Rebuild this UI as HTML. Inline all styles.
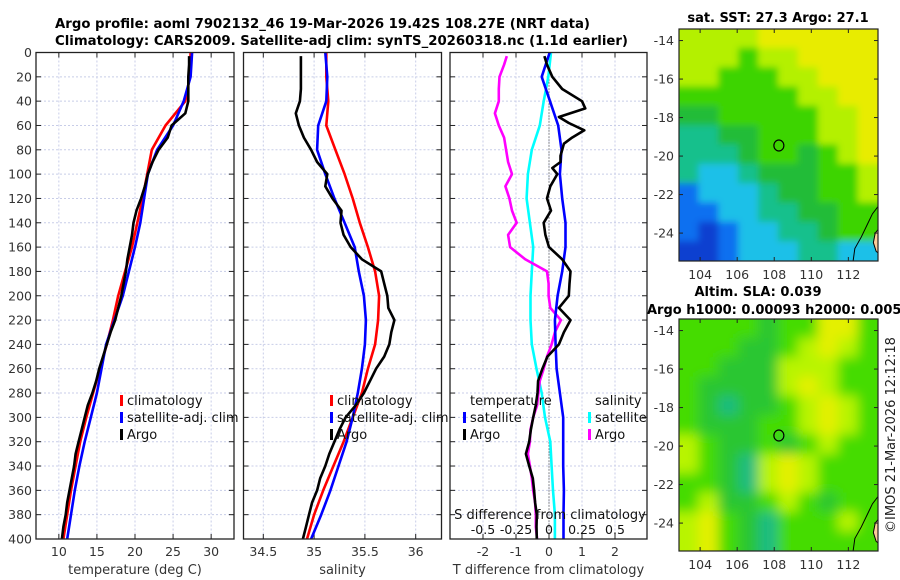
<!DOCTYPE html>
<html><head><meta charset="utf-8"><style>
html,body{margin:0;padding:0;background:#fff;}
svg{display:block;font-family:"DejaVu Sans","Liberation Sans",sans-serif;}
</style></head><body>
<svg id="fig" width="900" height="580" viewBox="0 0 900 580" xmlns="http://www.w3.org/2000/svg">
<text x="55" y="28" font-size="13" font-weight="bold" textLength="535" lengthAdjust="spacingAndGlyphs">Argo profile: aoml 7902132_46 19-Mar-2026 19.42S 108.27E (NRT data)</text>
<text x="55" y="45" font-size="13" font-weight="bold" textLength="573" lengthAdjust="spacingAndGlyphs">Climatology: CARS2009. Satellite-adj clim: synTS_20260318.nc (1.1d earlier)</text>
<text x="778" y="22" font-size="13" font-weight="bold" text-anchor="middle">sat. SST: 27.3 Argo: 27.1</text>
<text x="758" y="296" font-size="13" font-weight="bold" text-anchor="middle">Altim. SLA: 0.039</text>
<text x="647" y="314" font-size="13" font-weight="bold">Argo h1000: 0.00093 h2000: 0.005</text>
<text transform="translate(895,435) rotate(-90)" font-size="13" text-anchor="middle" fill="#222">©IMOS 21-Mar-2026 12:12:18</text>
<g id="plots"></g>
</svg>
<script>
// ---------- data ----------
const depthStd = [0,20,40,60,80,100,120,140,160,180,200,220,240,260,280,300,320,340,360,380,400];
const tempClim = [27.3,27.2,26.6,24.0,22.2,21.6,21.0,20.3,19.6,18.7,17.8,17.1,16.3,15.4,14.5,13.6,12.8,12.2,11.6,11.1,10.6];
const tempSat  = [27.5,27.3,26.4,25.0,22.9,21.7,21.2,20.7,20.0,19.2,18.4,17.3,16.2,15.6,15.0,14.2,13.4,12.7,12.1,11.6,11.1];
const depthArgo = [3,10,20,30,40,50,60,70,80,90,100,110,120,130,140,150,160,170,180,190,200,210,220,230,240,250,260,270,280,290,300,310,320,330,340,350,360,370,380,390,400];
const tempArgo = [27.1,27.1,27.0,27.0,27.0,26.6,24.8,24.3,23.1,22.3,21.7,21.3,20.8,20.2,19.8,19.6,19.3,19.0,18.8,18.5,18.2,17.8,17.4,16.8,16.3,15.8,15.3,14.9,14.4,13.8,13.4,13.0,12.6,12.2,12.0,11.7,11.4,11.1,10.9,10.6,10.4];
const salClim = [35.12,35.12,35.14,35.12,35.21,35.30,35.38,35.45,35.53,35.60,35.64,35.63,35.60,35.53,35.47,35.38,35.29,35.19,35.09,35.00,34.93];
const salSat  = [35.11,35.13,35.12,35.04,35.03,35.11,35.20,35.30,35.40,35.44,35.49,35.51,35.50,35.47,35.43,35.38,35.32,35.24,35.16,35.07,34.97];
const salArgo = [34.87,34.87,34.87,34.87,34.86,34.82,34.85,34.90,34.97,35.03,35.13,35.11,35.18,35.27,35.26,35.29,35.36,35.47,35.66,35.69,35.72,35.73,35.79,35.76,35.74,35.69,35.61,35.55,35.49,35.41,35.31,35.25,35.20,35.15,35.11,35.06,35.03,34.98,34.95,34.92,34.89];
const tDiffSat = [0.02,-0.22,0.03,0.28,0.38,0.33,0.40,0.50,0.50,0.40,0.26,0.18,0.20,0.23,0.33,0.43,0.43,0.43,0.45,0.44,0.44];
const sDiffSat = [0.015,-0.005,-0.04,-0.07,-0.13,-0.16,-0.17,-0.145,-0.12,-0.13,-0.14,-0.14,-0.13,-0.095,-0.055,-0.03,0.01,0.02,0.03,0.045,0.045];
const sDiffArgo = [-0.32,-0.34,-0.375,-0.38,-0.38,-0.41,-0.38,-0.34,-0.325,-0.31,-0.28,-0.33,-0.30,-0.28,-0.245,-0.31,-0.295,-0.18,-0.015,-0.003,-0.003,0.01,0.09,0.045,0.02,-0.015,-0.04,-0.07,-0.08,-0.09,-0.12,-0.14,-0.145,-0.16,-0.145,-0.13,-0.12,-0.105,-0.1,-0.1,-0.09];
const depthTDiffArgo = [3,10,20,30,40,46,53,58,64,70,75,85,90,95,100,110,120,130,140,150,160,170,180,190,200,210,220,230,240,250,260,270,280,290,300,310,320,330,340,350,360,370,380,390,400];
const tDiffArgo = [-0.14,-0.06,0.1,0.4,1.0,1.1,0.3,0.6,1.07,0.7,0.45,0.35,0.35,0.1,0.25,0.04,-0.06,0.06,-0.16,-0.11,0.0,0.4,0.65,0.62,0.6,0.3,0.65,0.45,0.3,-0.05,-0.2,-0.33,-0.35,-0.4,-0.48,-0.55,-0.6,-0.7,-0.6,-0.49,-0.45,-0.42,-0.37,-0.38,-0.37];
const depthTicks = [0,20,40,60,80,100,120,140,160,180,200,220,240,260,280,300,320,340,360,380,400];
const tempTicks = [10,15,20,25,30];
const salTicks = [34.5,35,35.5,36];
const salTickLabels = ["34.5","35","35.5","36"];
const diffTicks = [-2,-1,0,1,2];
const sDiffTicks = [-0.5,-0.25,0,0.25,0.5];
const sDiffTickLabels = ["-0.5","-0.25","0","0.25","0.5"];
const lonTicks = [104,106,108,110,112];
const latTicks = [-14,-16,-18,-20,-22,-24];
const sstGrid = ["LLLLYYYYYY","LLLGLLYYYY","LLGGGLLYYY","GGGGGGLLYY","DDGGGGGLLY","TTDDGGGLLY","TTTDGGDGLY","TCCTDDDGGL","BCCCTDDGGL","BBCCTTDDGG","BNBCCTTDGG","NNBCCCTTCC"];
const slaGrid = ["GGGGDGGYYG","GGGDDGLYLG","GGDDDLLLGG","GDDDDLYLGG","GDTDDGLYLG","GDDDGGLYLG","LGDDGDGLGG","LGDTLYLGGG","GGDTLYLGGG","GLDDGLGDGG","LYGDTGGGLG","LYGDTGGGGG"];
const floatLon = 108.25, floatLat = -19.45;

// ---------- helpers ----------
const NS="http://www.w3.org/2000/svg";
const root=document.getElementById('plots');
function mk(tag,attrs,parent){const e=document.createElementNS(NS,tag);for(const k in attrs)e.setAttribute(k,attrs[k]);(parent||root).appendChild(e);return e;}
const Y0=52.5,Y1=539;
const yScale=d=>Y0+(d/400)*(Y1-Y0);
function linScale(d0,d1,r0,r1){return v=>r0+(v-d0)/(d1-d0)*(r1-r0);}

function panel(name,x0,x1,xs,ticks,labels,xlabel,showY){
  const g=mk('g',{});
  
  
  ticks.forEach(t=>{const l=mk('line',{x1:xs(t),x2:xs(t),y1:Y0,y2:Y1,stroke:'#c8cde8','stroke-width':1,'stroke-dasharray':'2,2'},g);
    });
  depthTicks.forEach(d=>{if(d===0||d===400)return;const l=mk('line',{x1:x0,x2:x1,y1:yScale(d),y2:yScale(d),stroke:'#c8cde8','stroke-width':1,'stroke-dasharray':'2,2'},g);
    });
  ticks.forEach((t,i)=>{
    mk('line',{x1:xs(t),x2:xs(t),y1:Y0,y2:Y0+5,stroke:'#222'},g);
    mk('line',{x1:xs(t),x2:xs(t),y1:Y1,y2:Y1-5,stroke:'#222'},g);
    const tx=mk('text',{x:xs(t),y:Y1+17,'font-size':12.5,'text-anchor':'middle',fill:'#333'},g);tx.textContent=labels[i];
    
  });
  depthTicks.forEach(d=>{
    mk('line',{x1:x0,x2:x0+5,y1:yScale(d),y2:yScale(d),stroke:'#222'},g);
    mk('line',{x1:x1,x2:x1-5,y1:yScale(d),y2:yScale(d),stroke:'#222'},g);
    if(showY){const tx=mk('text',{x:x0-4,y:yScale(d)+4.5,'font-size':12.5,'text-anchor':'end',fill:'#333'},g);tx.textContent=d;
      }
  });
  const xl=mk('text',{x:(x0+x1)/2,y:Y1+35,'font-size':13,'text-anchor':'middle',fill:'#333'},g);xl.textContent=xlabel;
  
  return g;
}
function frame(g,x0,x1){const r=mk('rect',{x:x0,y:Y0,width:x1-x0,height:Y1-Y0,fill:'none',stroke:'#222','stroke-width':1.3},g);
  }
function line(g,name,xs,vals,depths,color){
  const pts=vals.map((v,i)=>xs(v).toFixed(1)+','+yScale(depths[i]).toFixed(1)).join(' ');
  const p=mk('polyline',{points:pts,fill:'none',stroke:color,'stroke-width':2.6,'stroke-linejoin':'round'},g);
  
}
function legendEntry(g,x,y,color,label,name){
  const e=mk('g',{},g);
  
  mk('rect',{x:x,y:y-10,width:3,height:11,fill:color},e);
  const t=mk('text',{x:x+7,y:y,'font-size':13,fill:'#111'},e);t.textContent=label;
}

// ---------- panel 1 temperature ----------
{const x0=36,x1=234;const xs=linScale(7,33,x0,x1);
 const g=panel('temperature-panel',x0,x1,xs,tempTicks,tempTicks.map(String),'temperature (deg C)',true);
 line(g,'temp-climatology-line',xs,tempClim,depthStd,'#f00');
 line(g,'temp-satellite-line',xs,tempSat,depthStd,'#00f');
 line(g,'temp-argo-line',xs,tempArgo,depthArgo,'#000');
 legendEntry(g,120,405,'#f00','climatology','legend-climatology');
 legendEntry(g,120,422,'#00f','satellite-adj. clim','legend-satellite');
 legendEntry(g,120,439,'#000','Argo','legend-argo');
 frame(g,x0,x1);}
// ---------- panel 2 salinity ----------
{const x0=243.5,x1=441.5;const xs=linScale(34.5,35,263.3,314.1);
 const g=panel('salinity-panel',x0,x1,xs,salTicks,salTickLabels,'salinity',false);
 line(g,'sal-climatology-line',xs,salClim,depthStd,'#f00');
 line(g,'sal-satellite-line',xs,salSat,depthStd,'#00f');
 line(g,'sal-argo-line',xs,salArgo,depthArgo,'#000');
 legendEntry(g,330,405,'#f00','climatology','legend-climatology');
 legendEntry(g,330,422,'#00f','satellite-adj. clim','legend-satellite');
 legendEntry(g,330,439,'#000','Argo','legend-argo');
 frame(g,x0,x1);}
// ---------- panel 3 differences ----------
{const x0=450,x1=647;const xs=linScale(-3,3,450,648);const ss=v=>xs(v*4);
 const g=panel('difference-panel',x0,x1,xs,diffTicks,diffTicks.map(String),'T difference from climatology',false);
 const z=mk('line',{x1:xs(0),x2:xs(0),y1:Y0,y2:Y1,stroke:'#333','stroke-dasharray':'1,2'},g);
 
 line(g,'sdiff-satellite-line',ss,sDiffSat,depthStd,'#0ff');
 line(g,'sdiff-argo-line',ss,sDiffArgo,depthArgo,'#f0f');
 line(g,'tdiff-satellite-line',xs,tDiffSat,depthStd,'#00f');
 line(g,'tdiff-argo-line',xs,tDiffArgo,depthTDiffArgo,'#000');
 const st=mk('text',{x:550,y:519,'font-size':13,'text-anchor':'middle',fill:'#111'},g);st.textContent='S difference from climatology';
 
 sDiffTicks.forEach((t,i)=>{const tx=mk('text',{x:ss(t),y:534,'font-size':12.5,'text-anchor':'middle',fill:'#111'},g);tx.textContent=sDiffTickLabels[i];
   });
 const h1=mk('text',{x:470,y:405,'font-size':13,fill:'#111'},g);h1.textContent='temperature';
 
 const h2=mk('text',{x:595,y:405,'font-size':13,fill:'#111'},g);h2.textContent='salinity';
 
 legendEntry(g,463,422,'#00f','satellite','legend-t-satellite');
 legendEntry(g,463,439,'#000','Argo','legend-t-argo');
 legendEntry(g,588,422,'#0ff','satellite','legend-s-satellite');
 legendEntry(g,588,439,'#f0f','Argo','legend-s-argo');
 frame(g,x0,x1);}

// ---------- maps ----------
const sstColors={Y:'#e8ec00',L:'#b4f000',G:'#3ed400',D:'#22bc38',T:'#12c08c',C:'#1ec0e8',B:'#1070f0',N:'#0c40d0'};
const slaColors={Y:'#e4f000',L:'#b8f400',G:'#44dc00',D:'#2cc630',T:'#1cbc80'};
function drawMap(name,top,grid,colors,blur){
  const x0=679,x1=878,y0=top,y1=top+232;
  const lonS=linScale(102.86,113.6,x0,x1), latS=linScale(-13.4,-25.45,y0,y1);
  const g=mk('g',{});
  
  const cid='clip'+top;
  const cp=mk('clipPath',{id:cid},g);mk('rect',{x:x0,y:y0,width:x1-x0,height:y1-y0},cp);
  const ig=mk('g',{'clip-path':'url(#'+cid+')'},g);
  const inner=mk('g',{filter:'url(#'+blur+')'},ig);
  const rows=grid.length,cols=grid[0].length,cw=(x1-x0)/cols,ch=(y1-y0)/rows;
  mk('rect',{x:x0-20,y:y0-20,width:x1-x0+40,height:y1-y0+40,fill:colors.G},inner);
  grid.forEach((row,r)=>{[...row].forEach((c,k)=>{
    const ex=(k===0?-15:0), ew=(k===cols-1?15:0)-ex, ey=(r===0?-15:0), eh=(r===rows-1?15:0)-ey;
    mk('rect',{x:x0+k*cw-0.5+ex,y:y0+r*ch-0.5+ey,width:cw+1+ew,height:ch+1+eh,fill:colors[c]},inner);});});
  const land=[[113.7,-23.7],[113.45,-24.0],[113.35,-24.5],[113.5,-24.95],[113.7,-25.1]];
  const lp=mk('polygon',{points:land.map(p=>lonS(p[0])+','+latS(p[1])).join(' '),fill:'#ffcc99',stroke:'#000','stroke-width':1},ig);
  
  const coast=[[113.7,-22.5],[113.3,-23.0],[113.0,-23.6],[112.7,-24.2],[112.35,-24.8],[112.25,-25.5]];
  const cl=mk('polyline',{points:coast.map(p=>lonS(p[0])+','+latS(p[1])).join(' '),fill:'none',stroke:'#000','stroke-width':1},ig);
  
  const fm=mk('ellipse',{cx:lonS(floatLon),cy:latS(floatLat),rx:5,ry:5.5,fill:'none',stroke:'#000','stroke-width':1.2},g);
  
  mk('rect',{x:x0,y:y0,width:x1-x0,height:y1-y0,fill:'none',stroke:'#222','stroke-width':1.2},g);
  lonTicks.forEach(t=>{const x=lonS(t);
    mk('line',{x1:x,x2:x,y1:y1,y2:y1-4,stroke:'#222'},g);mk('line',{x1:x,x2:x,y1:y0,y2:y0+4,stroke:'#222'},g);
    const tx=mk('text',{x:x,y:y1+18,'font-size':12.5,'text-anchor':'middle',fill:'#333'},g);tx.textContent=t;
    });
  latTicks.forEach(t=>{const y=latS(t);
    mk('line',{x1:x0,x2:x0+4,y1:y,y2:y,stroke:'#222'},g);mk('line',{x1:x1,x2:x1-4,y1:y,y2:y,stroke:'#222'},g);
    const tx=mk('text',{x:x0-5,y:y+4.5,'font-size':12.5,'text-anchor':'end',fill:'#333'},g);tx.textContent=t;
    });
}
const defs=mk('defs',{});
const f=mk('filter',{id:'blur',x:'-5%',y:'-5%',width:'110%',height:'110%'},defs);
mk('feGaussianBlur',{stdDeviation:6},f);
const f2=mk('filter',{id:'blurs',x:'-5%',y:'-5%',width:'110%',height:'110%'},defs);
mk('feGaussianBlur',{stdDeviation:3.5},f2);
drawMap('sst-map',29,sstGrid,sstColors,'blurs');
drawMap('sla-map',319,slaGrid,slaColors,'blur');
</script>
</body></html>
